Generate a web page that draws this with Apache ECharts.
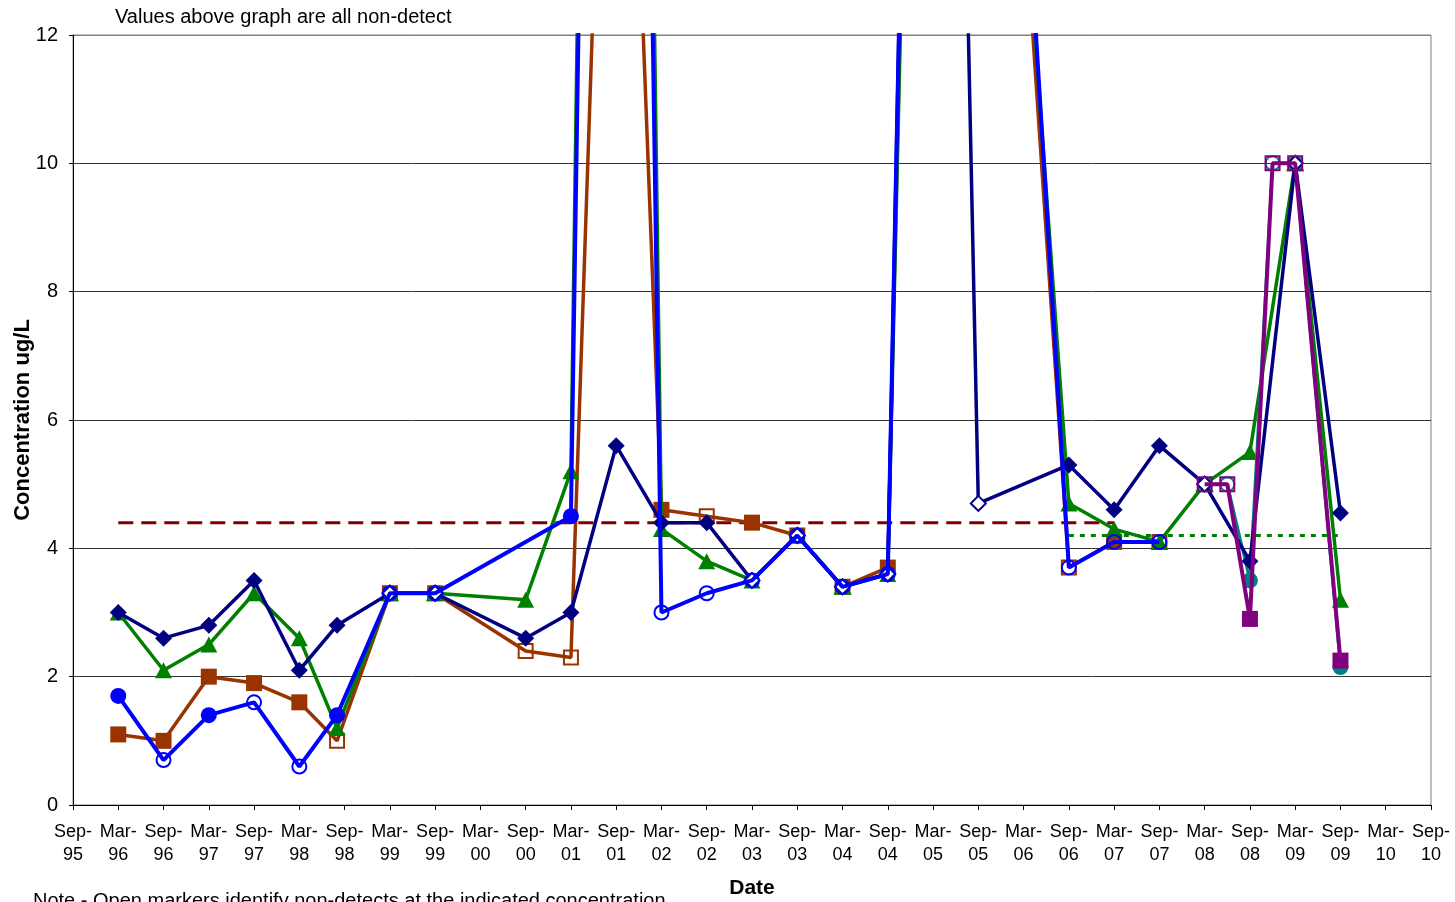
<!DOCTYPE html>
<html>
<head>
<meta charset="utf-8">
<title>Concentration ug/L</title>
<script src="https://cdn.jsdelivr.net/npm/echarts@6.0.0/dist/echarts.min.js"></script>
<style>
  html, body { margin: 0; padding: 0; background: #fff; }
  #chart { width: 1455px; height: 902px; }
</style>
</head>
<body>
<div id="chart"></div>
<script>
// Semi-annual tick labels along the date axis (one tick every six months)
const tickLabels = [
  'Sep-95','Mar-96','Sep-96','Mar-97','Sep-97','Mar-98','Sep-98','Mar-99','Sep-99','Mar-00',
  'Sep-00','Mar-01','Sep-01','Mar-02','Sep-02','Mar-03','Sep-03','Mar-04','Sep-04','Mar-05',
  'Sep-05','Mar-06','Sep-06','Mar-07','Sep-07','Mar-08','Sep-08','Mar-09','Sep-09','Mar-10','Sep-10'
];
const axisStart = '1995-09';
const yTicks = [0, 2, 4, 6, 8, 10, 12];

// Diamond series (navy)
const diamondDates = ['1996-03','1996-09','1997-03','1997-09','1998-03','1998-08','1999-03','1999-09',
  '2000-09','2001-03','2001-09','2002-03','2002-09','2003-03','2003-09','2004-03','2004-09','2005-03',
  '2005-09','2006-09','2007-03','2007-09','2008-03','2008-09','2009-03','2009-09'];
const diamondValues = [3.0, 2.6, 2.8, 3.5, 2.1, 2.8, 3.3, 3.3,
  2.6, 3.0, 5.6, 4.4, 4.4, 3.5, 4.2, 3.4, 3.6, 38,
  4.7, 5.3, 4.6, 5.6, 5.0, 3.8, 10, 4.55];
const diamondNonDetect = [0,0,0,0,0,0,1,1, 0,0,0,0,0,1,1,1,1,1, 1,0,0,0,1,0,1,0];

// Triangle series (green)
const triangleDates = ['1996-03','1996-09','1997-03','1997-09','1998-03','1998-08','1999-03','1999-09',
  '2000-09','2001-03','2001-09','2002-03','2002-09','2003-03','2003-09','2004-03','2004-09','2005-03',
  '2006-09','2007-03','2007-09','2008-03','2008-09','2009-03','2009-09'];
const triangleValues = [3.0, 2.1, 2.5, 3.3, 2.6, 1.2, 3.3, 3.3,
  3.2, 5.2, 55, 4.3, 3.8, 3.5, 4.2, 3.4, 3.6, 34,
  4.7, 4.3, 4.1, 5.0, 5.5, 10, 3.2];
const triangleNonDetect = [0,0,0,0,0,0,1,1, 0,0,1,0,0,0,1,1,0,1, 0,0,0,1,0,1,0];

// Square series (brown)
const squareDates = ['1996-03','1996-09','1997-03','1997-09','1998-03','1998-08','1999-03','1999-09',
  '2000-09','2001-03','2001-09','2002-03','2002-09','2003-03','2003-09','2004-03','2004-09','2005-03',
  '2006-09','2007-03','2007-09'];
const squareValues = [1.1, 1.0, 2.0, 1.9, 1.6, 1.0, 3.3, 3.3,
  2.4, 2.3, 23, 4.6, 4.5, 4.4, 4.2, 3.4, 3.7, 35,
  3.7, 4.1, 4.1];
const squareNonDetect = [0,0,0,0,0,1,0,0, 1,1,1,0,1,0,0,0,0,1, 1,0,1];

// Circle series (blue)
const circleDates = ['1996-03','1996-09','1997-03','1997-09','1998-03','1998-08','1999-03','1999-09',
  '2001-03','2001-09','2002-03','2002-09','2003-03','2003-09','2004-03','2004-09','2005-03',
  '2006-09','2007-03','2007-09'];
const circleValues = [1.7, 0.7, 1.4, 1.6, 0.6, 1.4, 3.3, 3.3,
  4.5, 50, 3.0, 3.3, 3.5, 4.2, 3.4, 3.6, 38,
  3.7, 4.1, 4.1];
const circleNonDetect = [0,1,0,1,1,0,1,1, 0,1,1,1,1,1,1,1,1, 1,1,1];

// Later square series (purple)
const lateSquareDates = ['2008-03','2008-06','2008-09','2008-12','2009-03','2009-09'];
const lateSquareValues = [5.0, 5.0, 2.9, 10, 10, 2.25];
const lateSquareNonDetect = [1,1,0,1,1,0];

// Later circle series (teal)
const lateCircleDates = ['2008-03','2008-06','2008-09','2008-12','2009-03','2009-09'];
const lateCircleValues = [5.0, 5.0, 3.5, 10, 10, 2.15];
const lateCircleNonDetect = [1,1,0,1,1,0];

// Reference levels
const dashedLevelDates = ['1996-03','2007-03'];
const dashedLevelValues = [4.4, 4.4];
const dottedLevelDates = ['2006-09','2009-09'];
const dottedLevelValues = [4.2, 4.2];

const FONT = '"Liberation Sans", Arial, sans-serif';

// Position on the date axis, in half-year steps from the first tick
function halfYears(ym) {
  const [y, m] = ym.split('-').map(Number);
  const [y0, m0] = axisStart.split('-').map(Number);
  return ((y * 12 + m) - (y0 * 12 + m0)) / 6;
}

function markerSeries(name, dates, values, nonDetect, opts) {
  return {
    name: name,
    type: 'line',
    z: opts.z,
    clip: true,
    symbol: opts.symbol,
    symbolSize: opts.size,
    showAllSymbol: true,
    lineStyle: { color: opts.color, width: opts.width },
    itemStyle: { color: opts.color },
    emphasis: { disabled: true },
    animation: false,
    data: dates.map((d, i) => {
      const open = nonDetect[i] === 1;
      return {
        value: [halfYears(d), values[i]],
        symbolSize: open ? opts.openSize : opts.size,
        itemStyle: open
          ? { color: opts.openFill, borderColor: opts.color, borderWidth: 2 }
          : { color: opts.color, borderWidth: 0 }
      };
    })
  };
}

function levelSeries(name, dates, values, color, dash, width) {
  return {
    name: name,
    type: 'line',
    z: 1,
    symbol: 'none',
    lineStyle: { color: color, width: width, type: dash },
    emphasis: { disabled: true },
    animation: false,
    data: dates.map((d, i) => [halfYears(d), values[i]])
  };
}

const chart = echarts.init(document.getElementById('chart'), null, { renderer: 'canvas' });

chart.setOption({
  animation: false,
  backgroundColor: '#fff',
  textStyle: { fontFamily: FONT },
  grid: {
    left: 73, right: 24, top: 35, bottom: 97,
    containLabel: false,
    outerBoundsMode: 'none',
    show: true, borderColor: '#808080', borderWidth: 1, backgroundColor: 'transparent'
  },
  xAxis: {
    type: 'value',
    min: 0,
    max: tickLabels.length - 1,
    interval: 1,
    name: 'Date',
    nameLocation: 'middle',
    nameGap: 73,
    nameMoveOverlap: false,
    nameTextStyle: { fontFamily: FONT, fontWeight: 'bold', fontSize: 21, color: '#000' },
    axisLine: { show: true, onZero: false, lineStyle: { color: '#000', width: 1 } },
    axisTick: { show: true, inside: false, length: 5, lineStyle: { color: '#000' } },
    splitLine: { show: false },
    axisLabel: {
      margin: 16,
      fontFamily: FONT,
      fontSize: 18,
      lineHeight: 23,
      color: '#000',
      showMinLabel: true,
      showMaxLabel: true,
      formatter: function (v) {
        const t = tickLabels[Math.round(v)];
        return t ? t.replace('-', '-\n') : '';
      }
    }
  },
  yAxis: {
    type: 'value',
    min: yTicks[0],
    max: yTicks[yTicks.length - 1],
    interval: yTicks[1] - yTicks[0],
    name: 'Concentration ug/L',
    nameLocation: 'middle',
    nameGap: 39,
    nameMoveOverlap: false,
    nameTextStyle: { fontFamily: FONT, fontWeight: 'bold', fontSize: 22, color: '#000' },
    axisLine: { show: true, lineStyle: { color: '#000', width: 1 } },
    axisTick: { show: true, inside: false, length: 4, lineStyle: { color: '#000' } },
    axisLabel: { margin: 15, fontFamily: FONT, fontSize: 20, color: '#000' },
    splitLine: {
      show: true,
      lineStyle: { color: ['#000', '#333', '#333', '#333', '#333', '#333', '#808080'], width: 1 }
    }
  },
  graphic: [
    {
      type: 'text', left: 115, top: 7, z: 10,
      style: { text: 'Values above graph are all non-detect', font: '20px ' + FONT, fill: '#000' }
    },
    {
      type: 'text', left: 33, top: 891, z: 10,
      style: { text: 'Note - Open markers identify non-detects at the indicated concentration.', font: '20px ' + FONT, fill: '#000' }
    }
  ],
  series: [
    levelSeries('Level 4.4', dashedLevelDates, dashedLevelValues, '#800000', [15, 8], 3),
    levelSeries('Level 4.2', dottedLevelDates, dottedLevelValues, '#008000', [5, 6], 3),
    markerSeries('Square', squareDates, squareValues, squareNonDetect,
      { z: 2, symbol: 'rect', size: 16, openSize: 14, color: '#993300', width: 3.5, openFill: 'rgba(255,255,255,0)' }),
    markerSeries('Triangle', triangleDates, triangleValues, triangleNonDetect,
      { z: 3, symbol: 'triangle', size: [17, 16], openSize: [15, 14], color: '#008000', width: 3.5, openFill: '#fff' }),
    markerSeries('Late circle', lateCircleDates, lateCircleValues, lateCircleNonDetect,
      { z: 4, symbol: 'circle', size: 16, openSize: 14, color: '#008080', width: 3, openFill: 'rgba(255,255,255,0)' }),
    markerSeries('Diamond', diamondDates, diamondValues, diamondNonDetect,
      { z: 5, symbol: 'diamond', size: 17, openSize: 15, color: '#000080', width: 3.5, openFill: '#fff' }),
    markerSeries('Circle', circleDates, circleValues, circleNonDetect,
      { z: 6, symbol: 'circle', size: 16, openSize: 14, color: '#0000FF', width: 4, openFill: 'rgba(255,255,255,0)' }),
    markerSeries('Late square', lateSquareDates, lateSquareValues, lateSquareNonDetect,
      { z: 7, symbol: 'rect', size: 16, openSize: 14, color: '#800080', width: 4, openFill: 'rgba(255,255,255,0)' })
  ]
});
</script>
</body>
</html>
